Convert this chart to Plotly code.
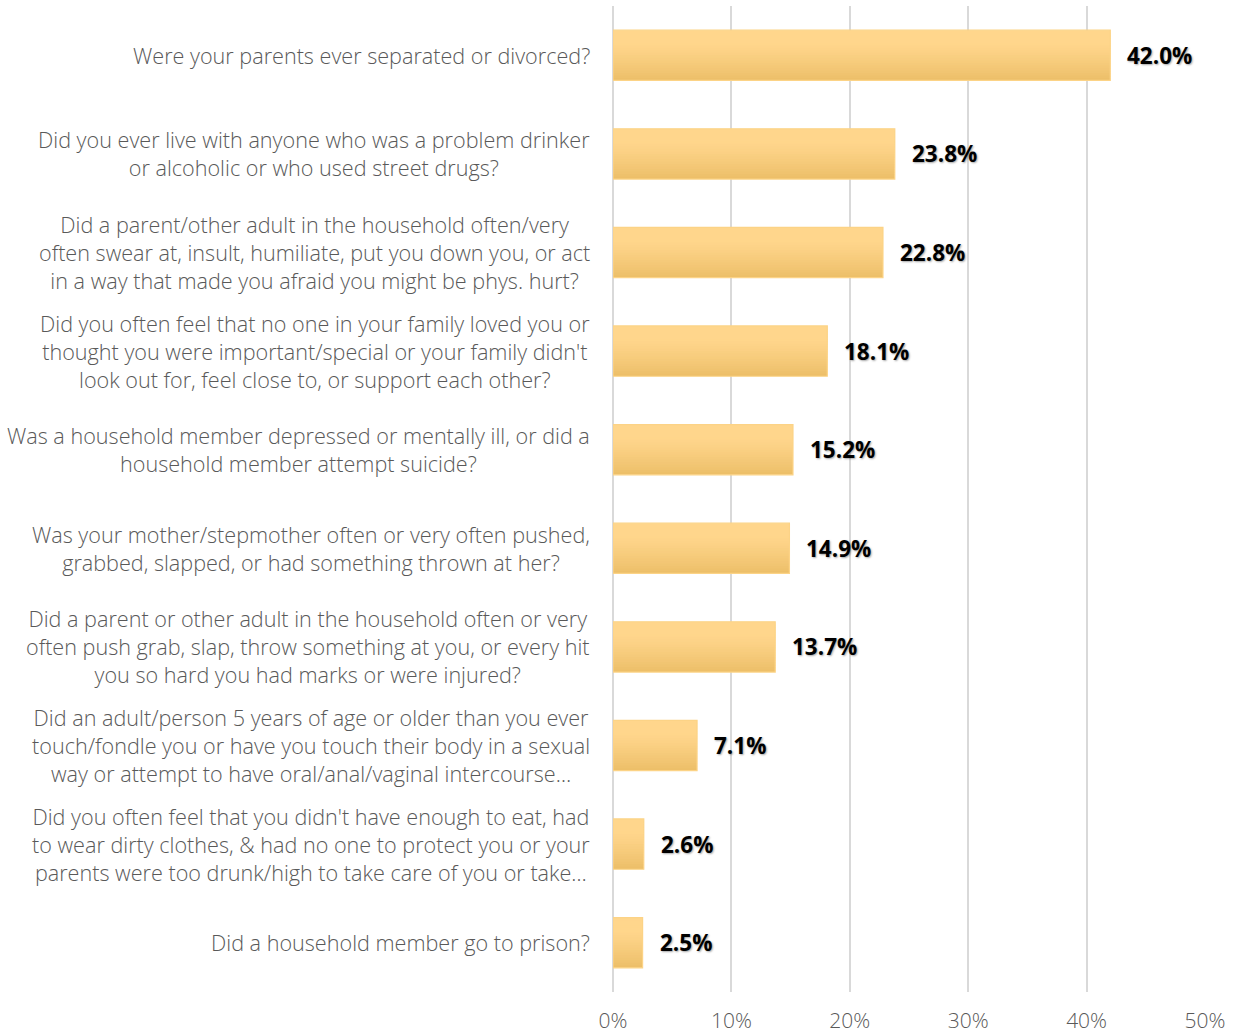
import plotly.graph_objects as go

categories = [
    "Were your parents ever separated or divorced?",
    "Did you ever live with anyone who was a problem drinker<br>or alcoholic or who used street drugs?",
    "Did a parent/other adult in the household often/very<br>often swear at, insult, humiliate, put you down you, or act<br>in a way that made you afraid you might be phys. hurt?",
    "Did you often feel that no one in your family loved you or<br>thought you were important/special or your family didn't<br>look out for, feel close to, or support each other?",
    "Was a household member depressed or mentally ill, or did a<br>household member attempt suicide?",
    "Was your mother/stepmother often or very often pushed,<br>grabbed, slapped, or had something thrown at her?",
    "Did a parent or other adult in the household often or very<br>often push grab, slap, throw something at you, or every hit<br>you so hard you had marks or were injured?",
    "Did an adult/person 5 years of age or older than you ever<br>touch/fondle you or have you touch their body in a sexual<br>way or attempt to have oral/anal/vaginal intercourse…",
    "Did you often feel that you didn't have enough to eat, had<br>to wear dirty clothes, & had no one to protect you or your<br>parents were too drunk/high to take care of you or take…",
    "Did a household member go to prison?",
]
values = [42.0, 23.8, 22.8, 18.1, 15.2, 14.9, 13.7, 7.1, 2.6, 2.5]
tick_vals = [0, 10, 20, 30, 40, 50]
tick_text = ["0%", "10%", "20%", "30%", "40%", "50%"]

ids = list(range(len(categories)))

# gradient styling (top -> bottom) to imitate the bar fill gradient
TOP_RGB = (255, 214, 140)
BOT_RGB = (236, 190, 104)
N_BANDS = 20
BAR_W = 0.51
bw = BAR_W / N_BANDS


def band_color(t):
    # keep upper part light, darken toward the bottom
    s = max(0.0, (t - 0.25) / 0.75)
    s = s ** 1.2
    r, g, b = (round(a + (c - a) * s) for a, c in zip(TOP_RGB, BOT_RGB))
    return f"rgb({r},{g},{b})"


fig = go.Figure()
for k in range(N_BANDS):
    t = (k + 0.5) / N_BANDS
    w = bw if k == N_BANDS - 1 else bw * 1.6
    fig.add_trace(go.Bar(
        x=values, y=ids, orientation="h",
        width=w, offset=-BAR_W / 2 + k * bw,
        marker=dict(color=band_color(t), line=dict(width=0)),
        hoverinfo="skip",
    ))
fig.add_trace(go.Bar(
    x=values, y=ids, orientation="h",
    width=BAR_W, offset=-BAR_W / 2,
    marker=dict(color="rgba(0,0,0,0)", line=dict(color="#FCD386", width=1.2)),
    hoverinfo="skip",
))

annotations = []
for i, (c, v) in enumerate(zip(categories, values)):
    annotations.append(dict(
        x=0, xref="paper", y=i, yref="y", text=c, showarrow=False,
        xanchor="right", yanchor="middle", align="center", xshift=-21,
        font=dict(family="Open Sans", size=21.6, color="#595959", weight=300),
    ))
    annotations.append(dict(
        x=v, xref="x", y=i, yref="y", text=f"{v:.1f}%", showarrow=False,
        xanchor="left", yanchor="middle", xshift=15,
        font=dict(family="Open Sans", size=22.5, color="#000000", weight="bold",
                  shadow="1px 1px 2px rgba(0,0,0,0.35)"),
    ))

fig.update_layout(
    width=1233, height=1034,
    margin=dict(l=613, r=28, t=6, b=42),
    paper_bgcolor="white", plot_bgcolor="white",
    showlegend=False, barmode="overlay",
    annotations=annotations,
    xaxis=dict(
        range=[0, 50], tickvals=tick_vals, ticktext=tick_text,
        showgrid=True, gridcolor="#D9D9D9", gridwidth=2,
        zeroline=True, zerolinecolor="#D9D9D9", zerolinewidth=2,
        showline=False, ticks="", ticklabelstandoff=14, automargin=False,
        tickfont=dict(family="Open Sans", size=21, color="#595959", weight=300),
        fixedrange=True,
    ),
    yaxis=dict(
        range=[9.5, -0.5], showticklabels=False, showgrid=False,
        zeroline=False, showline=False, fixedrange=True, automargin=False,
    ),
)

fig.write_html("out.html")
